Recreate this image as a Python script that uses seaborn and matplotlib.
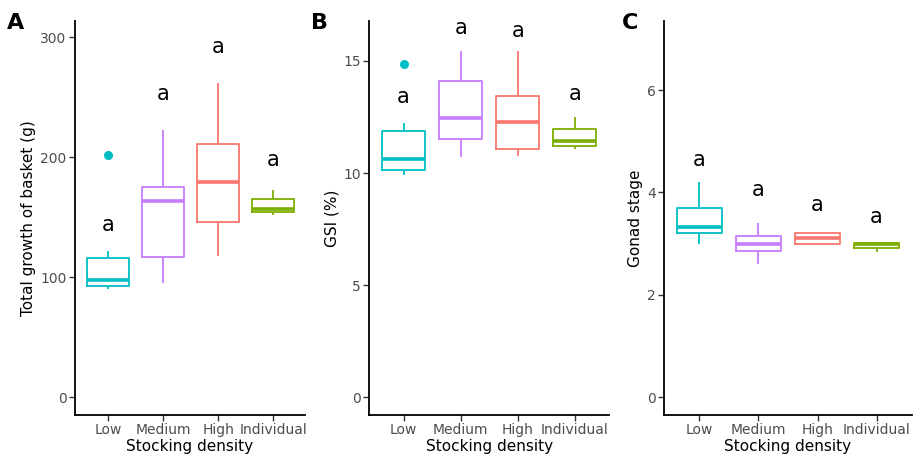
import numpy as np
import pandas as pd
import matplotlib
matplotlib.use("Agg")
import matplotlib.pyplot as plt
import seaborn as sns

sns.set_theme(style="ticks")
plt.rcParams['font.family'] = ['DejaVu Sans']

ORDEM = ["Low", "Medium", "High", "Individual"]
CORES = {"Low": "#00BFC4", "Medium": "#C77CFF", "High": "#F8766D", "Individual": "#7CAE00"}

# five-number summaries: lower whisker, Q1, median, Q3, upper whisker
crescimento = {
    "Low": [90.1, 92.2, 97.2, 115.9, 121.4],
    "Medium": [94.8, 116.4, 163.5, 174.8, 222.9],
    "High": [117.6, 146.2, 179.0, 211.0, 261.6],
    "Individual": [152.0, 154.5, 157.0, 164.8, 172.6],
}
crescimento_outliers = {"Low": [201.5]}
crescimento_letras = [138.7, 248.0, 287.0, 193.0]

gsi = {
    "Low": [9.92, 10.14, 10.64, 11.89, 12.22],
    "Medium": [10.70, 11.53, 12.46, 14.12, 15.46],
    "High": [10.75, 11.07, 12.27, 13.45, 15.42],
    "Individual": [11.06, 11.22, 11.43, 11.98, 12.52],
}
gsi_outliers = {"Low": [14.84]}
gsi_letras = [13.14, 16.22, 16.08, 13.26]

gonada = {
    "Low": [3.00, 3.21, 3.33, 3.70, 4.20],
    "Medium": [2.61, 2.86, 3.00, 3.15, 3.40],
    "High": [2.99, 2.99, 3.11, 3.21, 3.21],
    "Individual": [2.84, 2.91, 2.99, 3.01, 3.01],
}
gonada_outliers = {}
gonada_letras = [4.52, 3.92, 3.63, 3.40]

paineis = [
    ("A", crescimento, crescimento_outliers, crescimento_letras, "Total growth of basket (g)",
     [0, 100, 200, 300], (-15, 313.6), [0.0819, 0.0939, 0.2511, 0.8603], (-0.6, 3.58), 0.007),
    ("B", gsi, gsi_outliers, gsi_letras, "GSI (%)",
     [0, 5, 10, 15], (-0.79, 16.78), [0.4032, 0.0939, 0.2617, 0.8603], (-0.6, 3.6), 0.340),
    ("C", gonada, gonada_outliers, gonada_letras, "Gonad stage",
     [0, 2, 4, 6], (-0.35, 7.35), [0.7249, 0.0939, 0.2707, 0.8603], (-0.6, 3.6), 0.679),
]

fig = plt.figure(figsize=(9.16, 4.58), dpi=100)

for letra, dados, outliers, letras, ylabel, yticks, ylim, pos, xlim, x_letra in paineis:
    ax = fig.add_axes(pos)
    df = pd.DataFrame([(g, v) for g in ORDEM for v in dados[g]], columns=["density", "value"])
    sns.boxplot(data=df, x="density", y="value", hue="density", order=ORDEM, hue_order=ORDEM,
                palette=CORES, fill=False, width=0.75, showcaps=False, whis=1.5,
                linewidth=1.3, medianprops={"linewidth": 2.6}, showfliers=False,
                legend=False, ax=ax)
    if outliers:
        df_out = pd.DataFrame([(g, v) for g, vs in outliers.items() for v in vs],
                              columns=["density", "value"])
        sns.stripplot(data=df_out, x="density", y="value", hue="density", order=ORDEM,
                      hue_order=ORDEM, palette=CORES, jitter=False, size=6.5,
                      legend=False, ax=ax, zorder=5)
    for i, y in enumerate(letras):
        ax.text(i, y, "a", ha="center", va="baseline", fontsize=15, color="black")

    ax.set_xlim(*xlim)
    ax.set_ylim(*ylim)
    ax.set_yticks(yticks)
    ax.set_xlabel("Stocking density", fontsize=11, color="black", labelpad=1)
    ax.set_ylabel(ylabel, fontsize=11, color="black", labelpad=3)
    ax.tick_params(axis="both", labelsize=10, labelcolor="#4D4D4D", color="#333333",
                   length=4, width=1, pad=2)
    sns.despine(ax=ax)
    for s in ["left", "bottom"]:
        ax.spines[s].set_linewidth(1.3)
        ax.spines[s].set_color("black")

    fig.text(x_letra, 0.95, letra, fontsize=16, fontweight="bold", color="black",
             ha="left", va="center")

fig.savefig("out.png", dpi=100)
